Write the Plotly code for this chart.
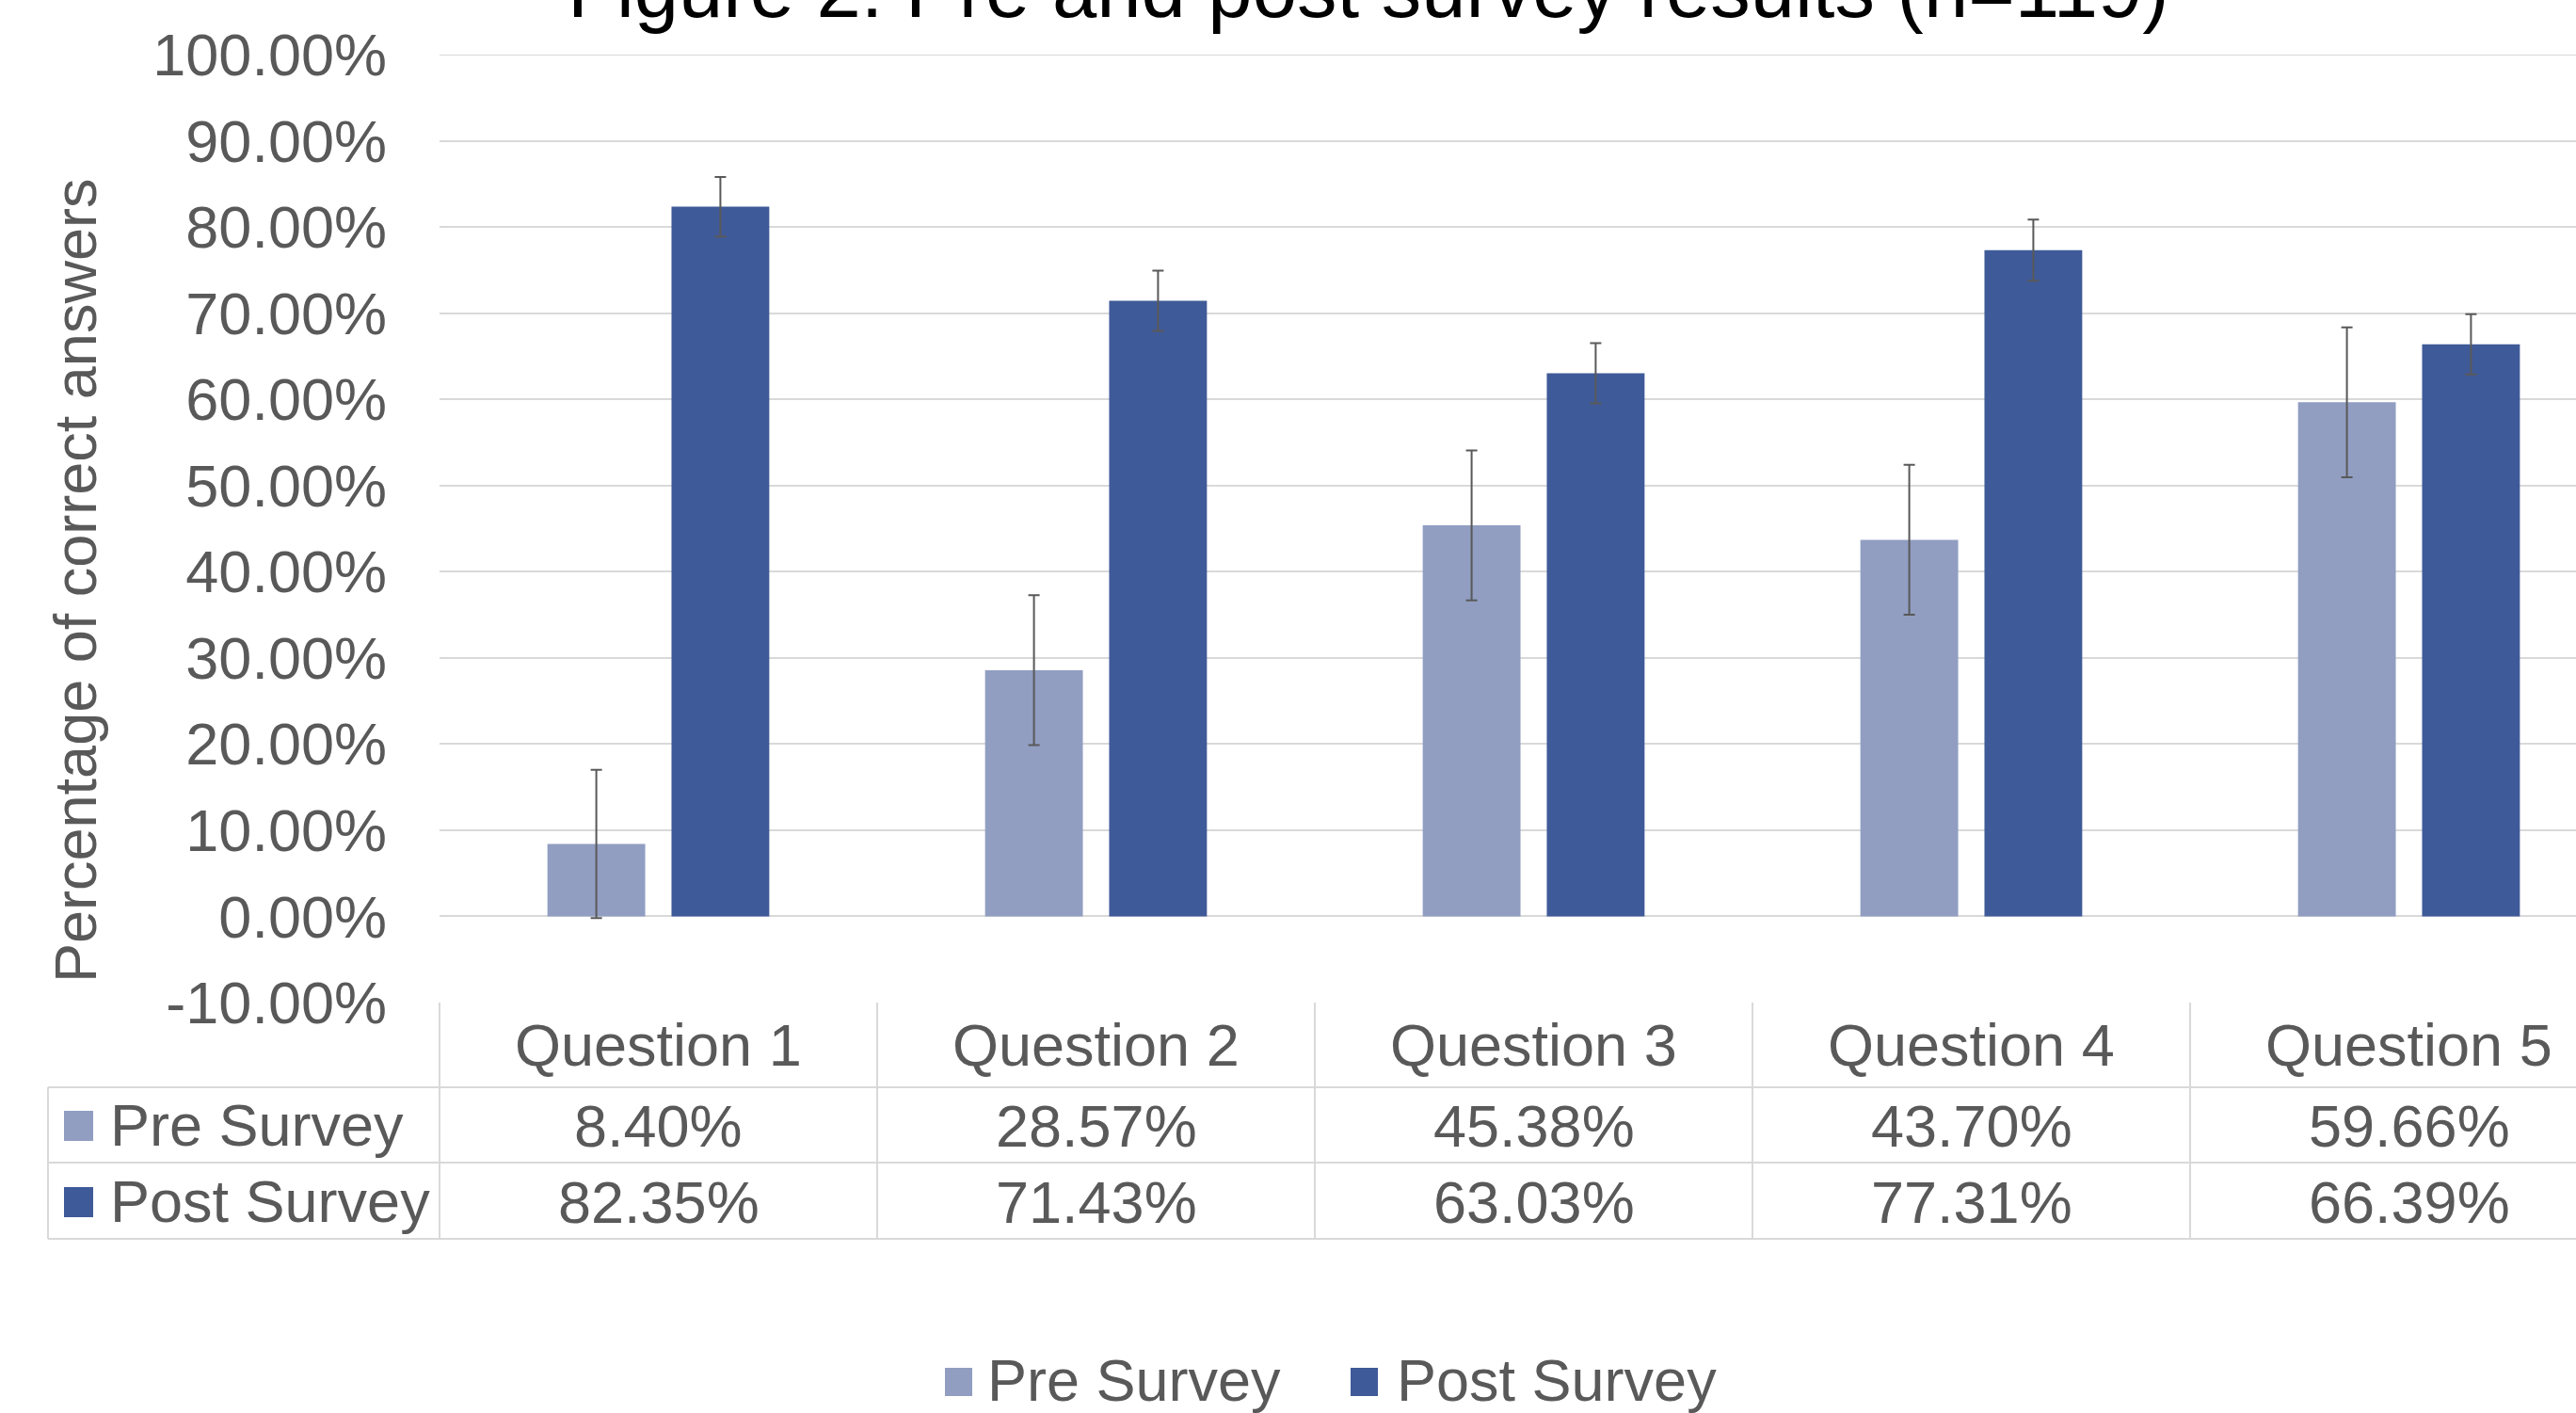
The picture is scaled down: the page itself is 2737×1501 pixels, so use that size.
import plotly.graph_objects as go

# ---------------- data ----------------
categories = ["Question 1", "Question 2", "Question 3", "Question 4", "Question 5"]
series_names = ["Pre Survey", "Post Survey"]
pre_survey = [8.40, 28.57, 45.38, 43.70, 59.66]
post_survey = [82.35, 71.43, 63.03, 77.31, 66.39]
pre_error = [8.6, 8.7, 8.7, 8.7, 8.7]
post_error = [3.45, 3.5, 3.5, 3.55, 3.5]
y_tick_values = [-10, 0, 10, 20, 30, 40, 50, 60, 70, 80, 90, 100]
y_tick_labels = ["-10.00%", "0.00%", "10.00%", "20.00%", "30.00%", "40.00%",
                 "50.00%", "60.00%", "70.00%", "80.00%", "90.00%", "100.00%"]
title_text = "Figure 2: Pre and post survey results (n=119)"
y_title = "Percentage of correct answers"

# ---------------- style / layout ----------------
W, H = 2737, 1501
L, R, T, B = 467, 2737, 58, 1065
CAT_PX = 465.0
XMIN = -0.5
XMAX = -0.5 + (R - L) / CAT_PX
YMIN, YMAX = -10, 100
PRE_COLOR = "#919EC2"
POST_COLOR = "#3F5A98"
TEXT = "#595959"
GRID = "#D9D9D9"
FONT = "Liberation Sans, Arial, sans-serif"
FS = 63


def px_x(px):
    return (px - L) / (R - L)


def px_y(py):
    return (B - py) / (B - T)


def cat_x(c):
    return (c - XMIN) / (XMAX - XMIN)


fig = go.Figure()
err_style = dict(type="data", color=TEXT, thickness=2, width=6, visible=True)
fig.add_trace(go.Bar(x=categories, y=pre_survey, name=series_names[0],
                     marker=dict(color=PRE_COLOR, line=dict(width=0)),
                     error_y=dict(array=pre_error, **err_style)))
fig.add_trace(go.Bar(x=categories, y=post_survey, name=series_names[1],
                     marker=dict(color=POST_COLOR, line=dict(width=0)),
                     error_y=dict(array=post_error, **err_style)))

shapes = []
annotations = []
line = dict(color=GRID, width=2)

# top gridline (100%) that plotly omits at the range edge
shapes.append(dict(type="line", xref="paper", yref="y", x0=0, x1=1,
                   y0=YMAX, y1=YMAX, line=line, layer="below"))

# table geometry
header_bottom, pre_bottom, post_bottom = 1155, 1235, 1316
table_left = 51
row_centers = [1196, 1277]
header_center = 1110

# horizontal lines
for yy in (header_bottom, pre_bottom, post_bottom):
    shapes.append(dict(type="line", xref="paper", yref="paper",
                       x0=px_x(table_left), x1=cat_x(len(categories) - 0.5),
                       y0=px_y(yy), y1=px_y(yy), line=line))
# vertical lines
shapes.append(dict(type="line", xref="paper", yref="paper",
                   x0=px_x(table_left), x1=px_x(table_left),
                   y0=px_y(header_bottom), y1=px_y(post_bottom), line=line))
for i in range(len(categories) + 1):
    xb = cat_x(i - 0.5)
    shapes.append(dict(type="line", xref="paper", yref="paper",
                       x0=xb, x1=xb, y0=px_y(B), y1=px_y(post_bottom), line=line))

# header + values
for i, c in enumerate(categories):
    annotations.append(dict(x=c, xref="x", yref="paper", y=px_y(header_center),
                            text=c, showarrow=False, xanchor="center", yanchor="middle",
                            font=dict(size=FS, color=TEXT, family=FONT)))
    for vals, yc in ((pre_survey, row_centers[0]), (post_survey, row_centers[1])):
        annotations.append(dict(x=c, xref="x", yref="paper", y=px_y(yc),
                                text=f"{vals[i]:.2f}%", showarrow=False,
                                xanchor="center", yanchor="middle",
                                font=dict(size=FS, color=TEXT, family=FONT)))

# row labels with keys
for name, color, yc in ((series_names[0], PRE_COLOR, row_centers[0]),
                        (series_names[1], POST_COLOR, row_centers[1])):
    shapes.append(dict(type="rect", xref="paper", yref="paper",
                       x0=px_x(68), x1=px_x(99), y0=px_y(yc - 16), y1=px_y(yc + 16),
                       fillcolor=color, line=dict(width=0)))
    annotations.append(dict(x=px_x(115), y=px_y(yc - 1), xref="paper", yref="paper",
                            text=name, showarrow=False, xanchor="left", yanchor="middle",
                            font=dict(size=FS, color=TEXT, family=FONT)))

# bottom legend
legend_y = 1466
for name, color, sx, tx in ((series_names[0], PRE_COLOR, 1004, 1047),
                            (series_names[1], POST_COLOR, 1435, 1482)):
    shapes.append(dict(type="rect", xref="paper", yref="paper",
                       x0=px_x(sx), x1=px_x(sx + 29), y0=px_y(legend_y - 13),
                       y1=px_y(legend_y + 17), fillcolor=color, line=dict(width=0)))
    annotations.append(dict(x=px_x(tx), y=px_y(legend_y), xref="paper", yref="paper",
                            text=name, showarrow=False, xanchor="left", yanchor="middle",
                            font=dict(size=FS, color=TEXT, family=FONT)))

# chart title (partly cut at top, as in the reference)
annotations.append(dict(x=px_x(1454), y=px_y(-12), xref="paper", yref="paper",
                        text=title_text, showarrow=False, xanchor="center", yanchor="middle",
                        font=dict(size=85, color="#000000", family=FONT)))
# y axis title
annotations.append(dict(x=px_x(80), y=px_y(617), xref="paper", yref="paper",
                        text=y_title, showarrow=False, textangle=-90,
                        xanchor="center", yanchor="middle",
                        font=dict(size=FS, color=TEXT, family=FONT)))

fig.update_layout(
    width=W, height=H,
    margin=dict(l=L, r=W - R, t=T, b=H - B, pad=0),
    paper_bgcolor="white", plot_bgcolor="white",
    showlegend=False,
    barmode="group", bargap=0.433, bargroupgap=0.212,
    font=dict(family=FONT, color=TEXT, size=FS),
    xaxis=dict(type="category", range=[XMIN, XMAX], showticklabels=False,
               showgrid=False, zeroline=False, showline=False, ticks=""),
    yaxis=dict(range=[YMIN, YMAX], tickvals=y_tick_values, ticktext=y_tick_labels,
               showgrid=True, gridcolor=GRID, gridwidth=2, zeroline=False,
               showline=False, ticks="", ticklabelstandoff=55,
               tickfont=dict(size=FS, color=TEXT, family=FONT)),
    shapes=shapes, annotations=annotations,
)

fig.write_html("out.html", config={"displayModeBar": False},
               post_script="document.body.style.margin='0';document.body.style.overflow='hidden';")
